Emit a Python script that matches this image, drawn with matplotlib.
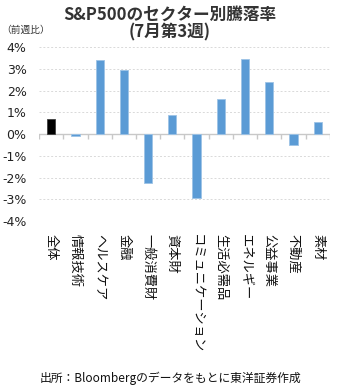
import matplotlib
matplotlib.use("Agg")
import matplotlib.pyplot as plt

plt.rcParams['font.family'] = ['Noto Sans CJK JP', 'DejaVu Sans']

# セクター別の週間騰落率（％）
sectors = ['全体', '情報技術', 'ヘルスケア', '金融', '一般消費財', '資本財',
           'コミュニケーション', '生活必需品', 'エネルギー', '公益事業', '不動産', '素材']
changes = [0.68, -0.07, 3.40, 2.93, -2.23, 0.88, -2.95, 1.64, 3.47, 2.38, -0.49, 0.57]
yticks = [-4, -3, -2, -1, 0, 1, 2, 3, 4]

fig = plt.figure(figsize=(3.4, 3.9), dpi=100)
ax = fig.add_axes([0.115, 0.433, 0.855, 0.446])

colors = ['#000000'] + ['#5B9BD5'] * (len(sectors) - 1)
edges = ['#404040'] + ['#9DC3E6'] * (len(sectors) - 1)
x = list(range(len(sectors)))
ax.bar(x, changes, width=0.34, color=colors, edgecolor=edges, linewidth=0.6, zorder=3)

ax.set_xlim(-0.5, len(sectors) - 0.5)
ax.set_ylim(-4, 4)
ax.set_yticks(yticks)
ax.set_yticklabels([f'{v}%' for v in yticks], fontsize=9, color='#222222',
                   family=['DejaVu Sans'])
ax.tick_params(axis='y', length=0, pad=9)

for s in ax.spines.values():
    s.set_visible(False)
ax.grid(axis='y', linestyle=(0, (2, 2)), color='#d9d9d9', linewidth=0.7, zorder=0)

# 0% の軸線と区切り目盛
ax.axhline(0, color='#c8c8c8', linewidth=1.0, zorder=2)
ax.vlines([i - 0.5 for i in range(len(sectors) + 1)], -0.2, 0,
          color='#c8c8c8', linewidth=1.0, zorder=2)

ax.set_xticks(x)
ax.set_xticklabels(sectors, rotation=-90, fontsize=9.5, color='#111111',
                   ha='center', va='top', rotation_mode='default')
ax.tick_params(axis='x', length=0, pad=9)

fig.text(0.5, 0.962, 'S&P500のセクター別騰落率', ha='center', va='center',
         fontsize=12, fontweight='bold', color='#333333')
fig.text(0.5, 0.916, '(7月第3週)', ha='center', va='center',
         fontsize=12, fontweight='bold', color='#333333')
fig.text(0.075, 0.923, '（前週比）', ha='center', va='center',
         fontsize=7, color='#333333')
fig.text(0.5, 0.03, '出所：Bloombergのデータをもとに東洋証券作成', ha='center',
         va='center', fontsize=8.5, color='#111111')

fig.savefig('out.png', dpi=100, facecolor='white')
